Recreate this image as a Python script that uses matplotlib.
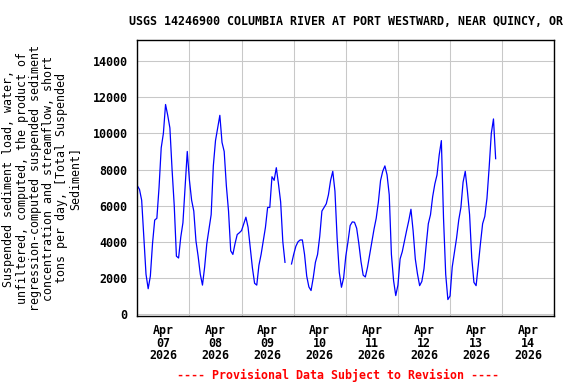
import matplotlib
matplotlib.use("Agg")
import matplotlib.pyplot as plt
import matplotlib.dates as mdates
import numpy as np
import pandas as pd

# hourly suspended sediment load (tons/day), from Apr 07 00:00
load = [
    7100, 6900, 6300, 4200, 2200, 1400, 2100, 3900, 5200, 5300, 7000, 9200,
    10000, 11600, 11000, 10300, 8000, 6000, 3200, 3100, 4250, 5050, 7000, 9000,
    7400, 6300, 5700, 4050, 3200, 2200, 1600, 2600, 3900, 4700, 5500, 8200,
    9600, 10300, 11000, 9500, 9000, 7100, 5700, 3500, 3300, 3900, 4400, 4500,
    4620, 5000, 5360, 4800, 3700, 2550, 1700, 1600, 2700, 3300, 4060, 4800,
    5900, 5900, 7600, 7400, 8100, 7200, 6200, 4000, 2860, np.nan, np.nan, 2770,
    3300, 3750, 4000, 4100, 4100, 3300, 2100, 1500, 1300, 2000, 2860, 3300,
    4300, 5700, 5900, 6100, 6600, 7400, 7900, 6800, 4200, 2300, 1480, 2000,
    3200, 4000, 4900, 5100, 5080, 4750, 3900, 2900, 2150, 2050, 2590, 3300,
    4000, 4700, 5300, 6200, 7390, 7900, 8200, 7700, 6600, 3300, 1850, 1020,
    1600, 3050, 3450, 4050, 4620, 5170, 5800, 4600, 3050, 2220, 1570, 1800,
    2500, 3800, 5000, 5500, 6500, 7200, 7700, 8800, 9600, 5300, 2200, 800,
    1000, 2600, 3400, 4200, 5200, 5900, 7300, 7900, 6800, 5500, 3100, 1750,
    1570, 2700, 3900, 5000, 5400, 6400, 8100, 10000, 10800, 8600,
]
times = pd.date_range("2026-04-07 00:00", periods=len(load), freq="h")

title = "USGS 14246900 COLUMBIA RIVER AT PORT WESTWARD, NEAR QUINCY, OR"
ylabel = ("Suspended sediment load, water,\n"
          "unfiltered, computed, the product of\n"
          "regression-computed suspended sediment\n"
          "concentration and streamflow, short\n"
          "tons per day, [Total Suspended\n"
          "Sediment]")
yticks = [0, 2000, 4000, 6000, 8000, 10000, 12000, 14000]

plt.rcParams["font.family"] = "DejaVu Sans Mono"
plt.rcParams["font.weight"] = "bold"
plt.rcParams["font.size"] = 8.4

fig = plt.figure(figsize=(5.76, 3.84), dpi=100)
ax = fig.add_axes([0.2384, 0.1771, 0.7239, 0.7187])

ax.plot(times, load, color="#0000ff", linewidth=0.9)

ax.set_xlim(pd.Timestamp("2026-04-07"), pd.Timestamp("2026-04-15"))
ax.set_ylim(-110, 15170)
ax.set_yticks(yticks)
ax.set_yticklabels([str(v) for v in yticks])

# gridlines at midnight, labels at noon
ax.xaxis.set_major_locator(mdates.DayLocator())
ax.xaxis.set_major_formatter(plt.NullFormatter())
ax.xaxis.set_minor_locator(mdates.HourLocator(byhour=12))
ax.xaxis.set_minor_formatter(mdates.DateFormatter("%b\n%d\n%Y"))
ax.tick_params(axis="x", which="both", length=0, pad=6)
ax.tick_params(axis="y", length=0, pad=7)
for lab in ax.get_xticklabels(which="minor"):
    lab.set_linespacing(0.95)

ax.grid(True, which="major", color="#c8c8c8", linewidth=0.75)
ax.set_axisbelow(True)
for sp in ax.spines.values():
    sp.set_linewidth(1.0)
    sp.set_color("black")

ax.set_title(title, fontsize=8.4, fontweight="bold", pad=11)
ax.set_ylabel(ylabel, linespacing=1.02, labelpad=8)

fig.text(0.587, 0.0234, "---- Provisional Data Subject to Revision ----",
         color="red", ha="center", va="center", fontsize=8.4, fontweight="bold")

fig.savefig("out.png", dpi=100)
